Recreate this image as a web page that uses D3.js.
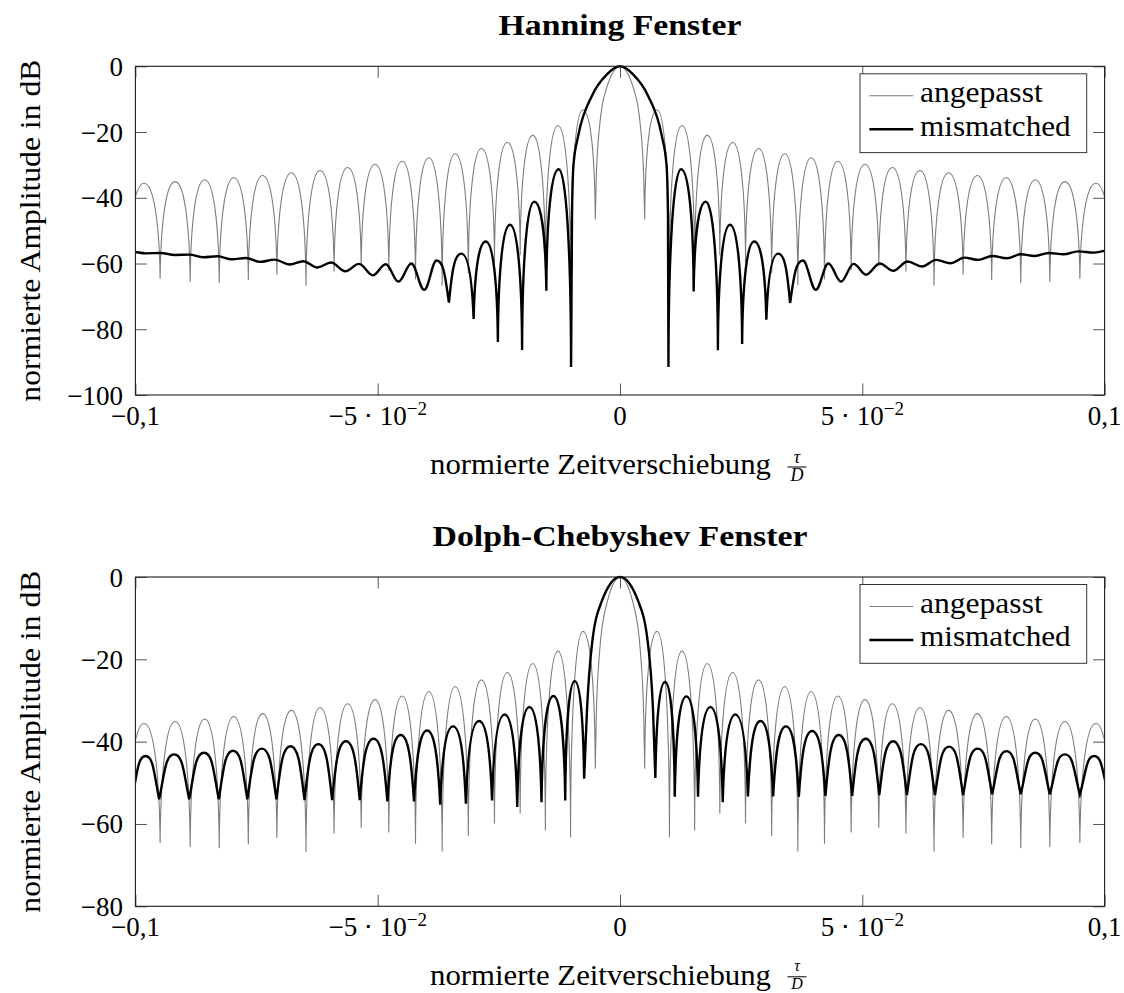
<!DOCTYPE html>
<html><head><meta charset="utf-8">
<script src="https://cdn.jsdelivr.net/npm/d3@7"></script>
<style>
body{margin:0;background:#fff;}
svg{display:block;font-family:"Liberation Serif","Times New Roman",serif;}
</style></head><body>
<svg id="chart" width="1124" height="993"></svg>
<script>
// ---------------- data ----------------
const xDomain = [-0.1, 0.1];
const xTickValues = [-0.1, -0.05, 0, 0.05, 0.1];
const xTickBase = ["\u22120,1", "\u22125 \u22C5 10", "0", "5 \u22C5 10", "0,1"];
const xTickExp  = ["", "\u22122", "", "\u22122", ""];
const hanningYTicks = [0, -20, -40, -60, -80, -100];
const dolphYTicks = [0, -20, -40, -60, -80];
const seriesNames = ["angepasst", "mismatched"];
const titles = ["Hanning Fenster", "Dolph-Chebyshev Fenster"];
const yLabelText = "normierte Amplitude in dB";
const xLabelText = "normierte Zeitverschiebung";

// angepasst (matched) – identical in both panels: nulls, null depths, lobe peaks
const matchedNullX = [-0.1015, -0.0949, -0.0887, -0.0827, -0.0767, -0.0708, -0.0648, -0.0590, -0.0534, -0.0477, -0.0422, -0.0367, -0.0313, -0.0259, -0.0206, -0.0154, -0.0102, -0.0051,
                       0.0051, 0.0102, 0.0154, 0.0206, 0.0259, 0.0313, 0.0367, 0.0422, 0.0477, 0.0534, 0.0590, 0.0648, 0.0708, 0.0767, 0.0827, 0.0887, 0.0949, 0.1015];
const matchedNullDb = [-64.0, -64.6, -65.6, -65.9, -65.0, -63.4, -66.8, -62.4, -60.9, -62.1, -64.8, -66.7, -62.9, -59.9, -57.5, -61.6, -63.2, -46.6,
                       -46.6, -63.2, -61.6, -57.5, -59.9, -62.9, -66.7, -64.8, -62.1, -60.9, -62.4, -66.7, -63.4, -65.0, -65.9, -65.6, -64.6, -64.0];
const matchedPeakDb = [-35.6, -35.1, -34.5, -33.9, -33.2, -32.4, -31.7, -30.8, -29.8, -28.9, -27.8, -26.6, -25.0, -23.2, -21.0, -18.0, -13.2,
                       0,
                       -13.2, -18.0, -21.0, -23.2, -25.0, -26.6, -27.8, -28.9, -29.8, -30.8, -31.7, -32.4, -33.2, -33.9, -34.5, -35.1, -35.6];
const matchedMainX  = [-0.0049, -0.0042, -0.0028, 0, 0.0028, 0.0042, 0.0049];
const matchedMainDb = [-34, -18, -6.8, 0, -6.8, -18, -34];

// mismatched, Hanning window
const hanNullX = [-0.1038, -0.0978, -0.0918, -0.0860, -0.0801, -0.0743, -0.0682, -0.0625, -0.0567, -0.0510, -0.0457, -0.0404, -0.0353, -0.0302, -0.0252, -0.0202, -0.0152, -0.0101,
                   0.0100, 0.0152, 0.0202, 0.0252, 0.0302, 0.0351, 0.0404, 0.0456, 0.0508, 0.0564, 0.0623, 0.0682, 0.0739, 0.0798, 0.0856, 0.0915, 0.0977, 0.1036];
const hanNullDb = [-56.6, -56.9, -57.4, -58.1, -58.7, -59.5, -60.3, -61.2, -62.4, -63.6, -65.5, -68.0, -71.9, -76.9, -83.9, -86.3, -68.3, -91.5,
                   -91.5, -68.5, -86.4, -84.5, -77.1, -72.0, -68.0, -65.5, -63.4, -62.2, -60.9, -59.9, -58.9, -58.4, -57.7, -57.2, -56.7, -56.4];
const hanPeakDb = [-56.4, -56.8, -57.3, -57.8, -58.3, -58.8, -59.3, -59.7, -60.1, -60.2, -60.0, -59.1, -57.0, -53.3, -48.2, -41.2, -31.3,
                   0,
                   -31.3, -41.2, -48.2, -53.3, -57.0, -59.1, -60.0, -60.1, -60.0, -59.4, -58.9, -58.2, -57.7, -57.2, -56.8, -56.3, -56.1];
const hanMainX  = [-0.0099, -0.0096, -0.0086, -0.0058, -0.0028, 0, 0.0028, 0.0058, 0.0086, 0.0096, 0.0099];
const hanMainDb = [-45, -30, -21, -9, -2.6, 0, -2.6, -9, -21, -30, -45];

// mismatched, Dolph-Chebyshev window
const dolNullX = [-0.1007, -0.0951, -0.0889, -0.0828, -0.0769, -0.0709, -0.0651, -0.0594, -0.0537, -0.0480, -0.0425, -0.0371, -0.0318, -0.0264, -0.0212, -0.0162, -0.0113, -0.0074,
                   0.0073, 0.0113, 0.0161, 0.0212, 0.0264, 0.0316, 0.0369, 0.0424, 0.0479, 0.0535, 0.0592, 0.0650, 0.0708, 0.0768, 0.0827, 0.0887, 0.0949, 0.1008];
const dolNullDb = [-54.0, -54.0, -54.0, -54.0, -54.0, -54.0, -54.2, -54.2, -54.2, -54.5, -54.5, -55.3, -55.1, -54.3, -55.9, -54.7, -54.3, -49.0,
                   -48.8, -53.4, -53.4, -54.7, -53.3, -53.3, -53.4, -53.2, -53.2, -53.0, -53.0, -53.0, -53.0, -52.8, -52.8, -52.8, -52.8, -52.8];
const dolPeakDb = [-43.5, -43.1, -42.7, -42.2, -41.7, -41.1, -40.6, -39.9, -39.3, -38.4, -37.3, -36.3, -35.0, -33.4, -31.6, -28.9, -25.3,
                   0,
                   -25.5, -29.0, -31.6, -33.4, -35.0, -36.3, -37.4, -38.4, -39.3, -39.9, -40.6, -41.2, -41.7, -42.3, -42.7, -43.1, -43.5];
const dolMainX  = [-0.0068, -0.0058, -0.0038, 0, 0.0038, 0.0058, 0.0068];
const dolMainDb = [-32, -16.5, -6, 0, -6, -16.5, -32];

// ---------------- layout ----------------
const svg = d3.select("#chart");
const L = 135.4, R = 1104.6, TICK = 11.5;
const GRAY = "#7c7c7c";
const panels = [
  { top: 66.3, bottom: 395.0, yDomain: [-100, 0], yTicks: hanningYTicks, title: titles[0], titleLen: 243,
    frac: { size: 18, tau: 67.5, bar: 72, d: 86 },
    mis: { nx: hanNullX, nd: hanNullDb, pk: hanPeakDb, mx: hanMainX, md: hanMainDb } },
  { top: 577.0, bottom: 906.3, yDomain: [-80, 0], yTicks: dolphYTicks, title: titles[1], titleLen: 375,
    frac: { size: 16, tau: 65, bar: 70.5, d: 83 },
    mis: { nx: dolNullX, nd: dolNullDb, pk: dolPeakDb, mx: dolMainX, md: dolMainDb } }
];
const matched = { nx: matchedNullX, nd: matchedNullDb, pk: matchedPeakDb, mx: matchedMainX, md: matchedMainDb };

// stroke between read nulls and read peaks: arch sides (deep lobes) or smooth ripple (shallow lobes)
const ARCH_A = 0.6, ARCH_B = 0.42, SHALLOW = 9;
function cuspSpread(depth) { return Math.min(0.5, 2 * (2 / Math.PI) * Math.asin(Math.pow(10, -depth / 20))); }
function halfUp(p, x0, y0, xm, yp, depth) {
  if (depth < SHALLOW) { p.bezierCurveTo(x0 + (xm - x0) * 0.364, y0, x0 + (xm - x0) * 0.636, yp, xm, yp); return; }
  const k = cuspSpread(depth);
  p.bezierCurveTo(x0 + (xm - x0) * k, y0 + (yp - y0) * ARCH_A, x0 + (xm - x0) * Math.max(ARCH_B, k), yp, xm, yp);
}
function halfDown(p, xm, yp, x1, y1, depth) {
  if (depth < SHALLOW) { p.bezierCurveTo(xm + (x1 - xm) * 0.364, yp, xm + (x1 - xm) * 0.636, y1, x1, y1); return; }
  const k = cuspSpread(depth);
  p.bezierCurveTo(x1 - (x1 - xm) * Math.max(ARCH_B, k), yp, x1 - (x1 - xm) * k, y1 + (yp - y1) * ARCH_A, x1, y1);
}
function lobePath(s, x, y) {
  const p = d3.path();
  p.moveTo(x(s.nx[0]), y(s.nd[0]));
  for (let i = 0; i < s.pk.length; i++) {
    const x0 = x(s.nx[i]), y0 = y(s.nd[i]), x1 = x(s.nx[i + 1]), y1 = y(s.nd[i + 1]);
    if (s.nx[i] < 0 && s.nx[i + 1] > 0) {
      const pts = [[s.nx[i], s.nd[i]]].concat(s.mx.map((v, j) => [v, s.md[j]]), [[s.nx[i + 1], s.nd[i + 1]]]);
      d3.line().x(d => x(d[0])).y(d => y(d[1])).curve(d3.curveMonotoneX).context(p)(pts);
      continue;
    }
    const xm = (x0 + x1) / 2, yp = y(s.pk[i]);
    halfUp(p, x0, y0, xm, yp, s.pk[i] - s.nd[i]);
    halfDown(p, xm, yp, x1, y1, s.pk[i] - s.nd[i + 1]);
  }
  return p.toString();
}

panels.forEach((P, pi) => {
  const x = d3.scaleLinear().domain(xDomain).range([L, R]);
  const y = d3.scaleLinear().domain(P.yDomain).range([P.bottom, P.top]);
  const g = svg.append("g");
  const h = P.bottom - P.top;

  const clipId = "clip" + pi;
  svg.append("clipPath").attr("id", clipId).append("rect")
    .attr("x", L).attr("y", P.top - 2).attr("width", R - L).attr("height", h + 2);

  // ticks (inside, all four sides)
  const axes = [
    [d3.axisBottom(x).tickValues(xTickValues), `translate(0,${P.bottom})`],
    [d3.axisTop(x).tickValues(xTickValues), `translate(0,${P.top})`],
    [d3.axisLeft(y).tickValues(P.yTicks), `translate(${L},0)`],
    [d3.axisRight(y).tickValues(P.yTicks), `translate(${R},0)`]
  ];
  axes.forEach(([ax, tr]) => {
    const a = g.append("g").attr("transform", tr).attr("color", "#555")
      .call(ax.tickSizeInner(-TICK).tickSizeOuter(0).tickFormat(""));
    a.select(".domain").remove();
    a.selectAll("line").attr("stroke-width", 1);
  });

  // y tick labels
  g.append("g").selectAll("text").data(P.yTicks).join("text")
    .attr("x", L - 12.3).attr("y", d => y(d) + 9.5)
    .attr("text-anchor", "end").attr("font-size", 27).attr("fill", "#000")
    .text(d => d < 0 ? "\u2212" + Math.abs(d) : String(d));

  // x tick labels
  const xl = g.append("g").selectAll("text").data(xTickValues).join("text")
    .attr("x", d => x(d)).attr("y", P.bottom + 30)
    .attr("text-anchor", "middle").attr("font-size", 27).attr("fill", "#000");
  xl.each(function (d, i) {
    const t = d3.select(this);
    t.append("tspan").text(xTickBase[i]);
    if (xTickExp[i]) t.append("tspan").attr("font-size", 19).attr("dy", -10.5).text(xTickExp[i]);
  });

  // curves
  const cg = g.append("g").attr("clip-path", `url(#${clipId})`);
  cg.append("path").attr("d", lobePath(matched, x, y))
    .attr("fill", "none").attr("stroke", GRAY).attr("stroke-width", 1.1);
  cg.append("path").attr("d", lobePath(P.mis, x, y))
    .attr("fill", "none").attr("stroke", "#000").attr("stroke-width", 2.4);

  // frame
  g.append("rect").attr("x", L).attr("y", P.top).attr("width", R - L).attr("height", h)
    .attr("fill", "none").attr("stroke", "#1e1e1e").attr("stroke-width", 1.1);

  // title
  g.append("text").attr("x", 620).attr("y", P.top - 31.3).attr("text-anchor", "middle")
    .attr("font-size", 29).attr("font-weight", "bold").attr("fill", "#000")
    .attr("textLength", P.titleLen).attr("lengthAdjust", "spacingAndGlyphs").text(P.title);

  // y label
  g.append("text").attr("transform", `translate(40,${(P.top + P.bottom) / 2}) rotate(-90)`)
    .attr("text-anchor", "middle").attr("font-size", 29).attr("fill", "#000")
    .attr("textLength", 342).attr("lengthAdjust", "spacingAndGlyphs").text(yLabelText);

  // x label with fraction tau / D
  g.append("text").attr("x", 430).attr("y", P.bottom + 79).attr("font-size", 29).attr("fill", "#000")
    .attr("textLength", 341).attr("lengthAdjust", "spacingAndGlyphs").text(xLabelText);
  const F = P.frac;
  g.append("text").attr("x", 797).attr("y", P.bottom + F.tau).attr("text-anchor", "middle")
    .attr("font-size", F.size).attr("font-style", "italic").attr("fill", "#000").text("\u03C4");
  g.append("line").attr("x1", 787.5).attr("x2", 806.5).attr("y1", P.bottom + F.bar).attr("y2", P.bottom + F.bar)
    .attr("stroke", "#000").attr("stroke-width", 1);
  g.append("text").attr("x", 797).attr("y", P.bottom + F.d).attr("text-anchor", "middle")
    .attr("font-size", F.size).attr("font-style", "italic").attr("fill", "#000").text("D");

  // legend
  const lg = g.append("g");
  lg.append("rect").attr("x", 860).attr("y", P.top + 7.5).attr("width", 226.7).attr("height", 78.8)
    .attr("fill", "#fff").attr("stroke", "#333").attr("stroke-width", 1);
  const styles = [[GRAY, 1.1], ["#000", 2.4]];
  const lens = [122.7, 150.7];
  seriesNames.forEach((name, k) => {
    const ly = P.top + 29.5 + k * 33.5;
    lg.append("line").attr("x1", 869.3).attr("x2", 913.3).attr("y1", ly).attr("y2", ly)
      .attr("stroke", styles[k][0]).attr("stroke-width", styles[k][1]);
    lg.append("text").attr("x", 920).attr("y", ly + 6.2).attr("font-size", 29).attr("fill", "#000")
      .attr("textLength", lens[k]).attr("lengthAdjust", "spacingAndGlyphs").text(name);
  });
});
</script>
</body></html>
